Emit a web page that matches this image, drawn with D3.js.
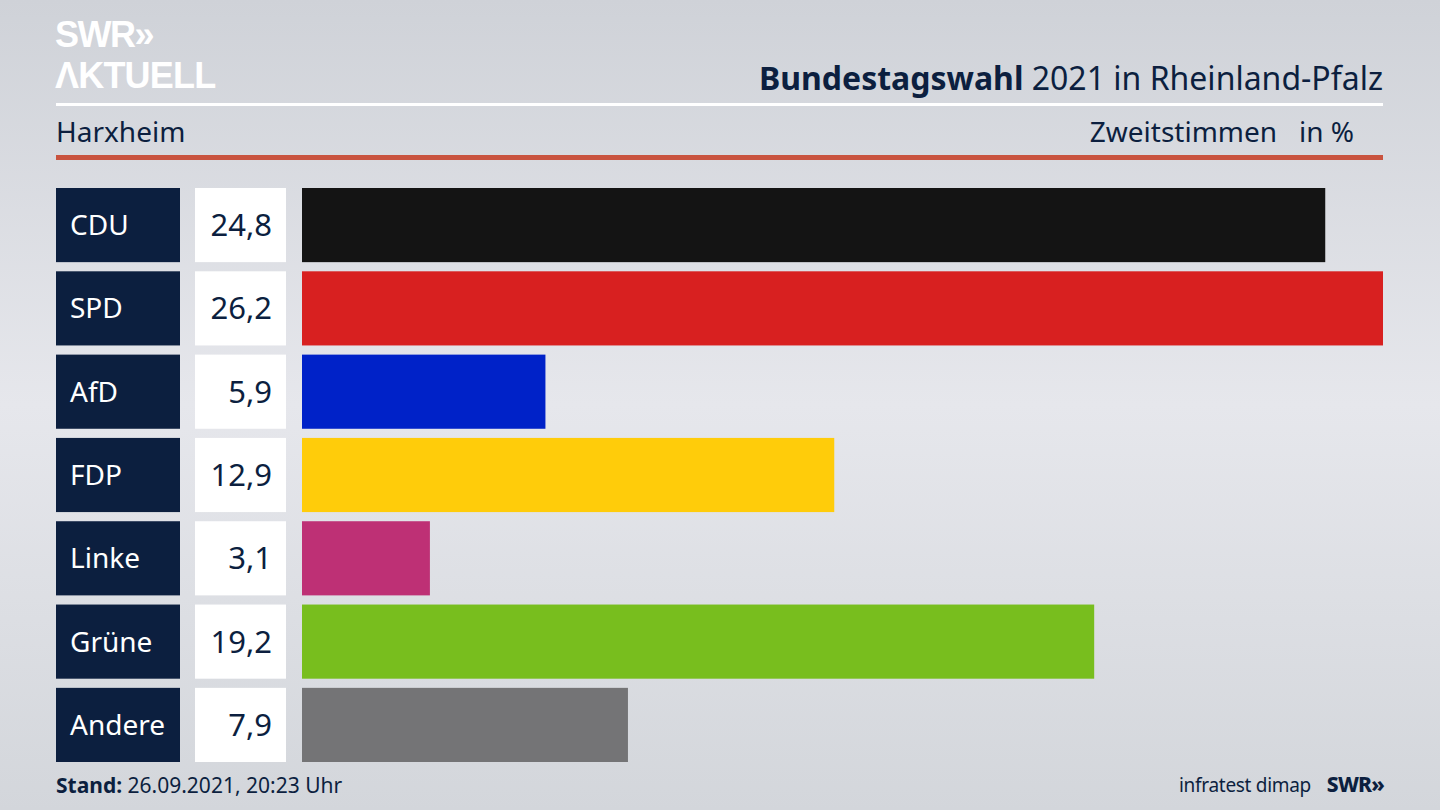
<!DOCTYPE html>
<html><head><meta charset="utf-8">
<script src="https://cdn.jsdelivr.net/npm/d3@7"></script>
<style>html,body{margin:0;padding:0;overflow:hidden;background:#dcdee3}</style>
</head><body>
<script>
const parties = ["CDU","SPD","AfD","FDP","Linke","Grüne","Andere"];
const values = [24.8,26.2,5.9,12.9,3.1,19.2,7.9];
const valueLabels = ["24,8","26,2","5,9","12,9","3,1","19,2","7,9"];
const colors = ["#141414","#d82020","#0022c8","#ffcc0a","#be3075","#78be1e","#747476"];

const W=1440,H=810;
const font="'Noto Sans', 'Open Sans', sans-serif";
const logoFont="'Liberation Sans', Arial, sans-serif";
const svg=d3.select("body").append("svg").attr("width",W).attr("height",H);
const defs=svg.append("defs");
const g=defs.append("linearGradient").attr("id","bg").attr("x1",0).attr("y1",0).attr("x2",0).attr("y2",1);
g.append("stop").attr("offset","0%").attr("stop-color","#cfd2d8");
g.append("stop").attr("offset","50%").attr("stop-color","#e6e7ec");
g.append("stop").attr("offset","100%").attr("stop-color","#d3d6db");
svg.append("rect").attr("width",W).attr("height",H).attr("fill","url(#bg)");

// logo
svg.append("text").attr("x",55).attr("y",47).attr("fill","#fff").attr("font-family",logoFont)
  .attr("font-weight",700).attr("font-size",36).attr("letter-spacing",-1.5).text("SWR»");
svg.append("text").attr("x",55).attr("y",88).attr("fill","#fff").attr("font-family",logoFont)
  .attr("font-weight",700).attr("font-size",36).attr("letter-spacing",-0.8).text("ΛKTUELL");

// title
const t=svg.append("text").attr("x",1383).attr("y",90).attr("text-anchor","end")
  .attr("font-family",font).attr("font-size",32).attr("fill","#0c1f3f");
t.append("tspan").attr("font-weight",700).text("Bundestagswahl");
t.append("tspan").text(" 2021 in Rheinland-Pfalz");
svg.append("rect").attr("x",56).attr("y",103).attr("width",1327).attr("height",3).attr("fill","#fff");
svg.append("text").attr("x",56).attr("y",142).attr("font-family",font).attr("font-size",28).attr("fill","#0c1f3f").text("Harxheim");
svg.append("text").attr("x",1354).attr("y",142).attr("text-anchor","end").attr("font-family",font).attr("font-size",28).attr("fill","#0c1f3f").attr("xml:space","preserve").text("Zweitstimmen   in %");
svg.append("rect").attr("x",56).attr("y",155).attr("width",1327).attr("height",5).attr("fill","#c9533f");

const y=d3.scaleBand().domain(parties).range([188,762]).paddingInner(0.11).paddingOuter(0);
const x=d3.scaleLinear().domain([0,d3.max(values)]).range([302,1383]);

const rows=svg.selectAll("g.row").data(parties).join("g").attr("class","row");
rows.append("rect").attr("x",56).attr("y",d=>y(d)).attr("width",124).attr("height",y.bandwidth()).attr("fill","#0c1f3f");
rows.append("text").attr("x",70).attr("y",d=>y(d)+y.bandwidth()/2+10).attr("fill","#fff")
  .attr("font-family",font).attr("font-size",28).text(d=>d);
rows.append("rect").attr("x",195).attr("y",d=>y(d)).attr("width",91).attr("height",y.bandwidth()).attr("fill","#fff");
rows.append("text").attr("x",272).attr("y",d=>y(d)+y.bandwidth()/2+11).attr("text-anchor","end").attr("fill","#0c1f3f")
  .attr("font-family",font).attr("font-size",31).text((d,i)=>valueLabels[i]);
rows.append("rect").attr("x",x(0)).attr("y",d=>y(d)).attr("width",(d,i)=>x(values[i])-x(0)).attr("height",y.bandwidth()).attr("fill",(d,i)=>colors[i]);

// footer
const f=svg.append("text").attr("x",56).attr("y",793).attr("font-family",font).attr("font-size",21).attr("fill","#0c1f3f");
f.append("tspan").attr("font-weight",700).text("Stand:");
f.append("tspan").text(" 26.09.2021, 20:23 Uhr");
svg.append("text").attr("x",1311).attr("y",792).attr("text-anchor","end").attr("font-family",font).attr("font-size",19).attr("fill","#0c1f3f").attr("letter-spacing",-0.3).text("infratest dimap");
svg.append("text").attr("x",1384).attr("y",792).attr("text-anchor","end").attr("font-family",font).attr("font-weight",800).attr("font-size",21).attr("letter-spacing",-0.8).attr("fill","#0c1f3f").text("SWR»");
</script>
</body></html>
